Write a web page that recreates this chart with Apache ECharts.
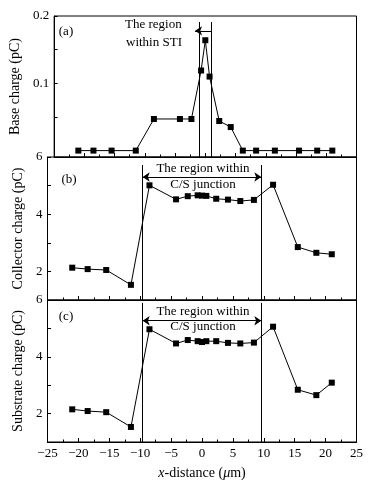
<!DOCTYPE html>
<html><head><meta charset="utf-8">
<script src="https://cdn.jsdelivr.net/npm/echarts@6/dist/echarts.min.js"></script>
<style>html,body{margin:0;padding:0;background:#fff}#c{width:383px;height:489px}</style>
</head><body><div id="c"></div>
<script>
const xVals = [-21,-18.5,-15.5,-11.5,-8.5,-4.2,-2.3,-0.7,0,0.7,2.3,4.2,6.2,8.4,11.5,15.5,18.5,21];
const baseCharge = [0,0,0,0,0.047,0.047,0.047,0.119,0.164,0.110,0.044,0.035,0,0,0,0,0,0];
const collectorCharge = [2.13,2.08,2.05,1.53,5.01,4.52,4.63,4.66,4.65,4.64,4.54,4.51,4.46,4.50,5.03,2.85,2.65,2.60];
const substrateCharge = [2.15,2.09,2.05,1.53,4.97,4.47,4.59,4.55,4.52,4.55,4.55,4.49,4.47,4.50,5.06,2.84,2.65,3.09];
const xTicks = [-25,-20,-15,-10,-5,0,5,10,15,20,25];
const baseTickLabels = [0.1,0.2];
const chargeTickLabels = [2,4,6];
const stiBounds = [-1,1];
const csBounds = [-9.6,9.6];

const FONT = 'Liberation Serif';
const black = '#000';
const grids = [
  {left:47.5, width:309, top:16, height:141},
  {left:47.5, width:309, top:157, height:143},
  {left:47.5, width:309, top:300, height:142}
].map(g => Object.assign(g, {show:true, borderColor:black, borderWidth:1, containLabel:false}));

function xAxis(i, labels){
  return {
    type:'value', gridIndex:i, min:xTicks[0], max:xTicks[xTicks.length-1], interval:5,
    axisLine:{show:true, onZero:false, lineStyle:{color:black}},
    axisTick:{show:true, inside:true, length:4, lineStyle:{color:black}},
    minorTick:{show:true, splitNumber:2, length:2.5, lineStyle:{color:black}},
    splitLine:{show:false},
    axisLabel:{show:labels, color:black, fontFamily:FONT, fontSize:13, margin:5,
      formatter: v => (v<0 ? '\u2212'+Math.abs(v) : ''+v)},
    name: labels ? '{i|x}-distance ({i|\u03bc}m)' : '',
    nameLocation:'middle', nameGap:24,
    nameTextStyle:{color:black, fontFamily:FONT, fontSize:14,
      rich:{i:{fontStyle:'italic', fontFamily:FONT, fontSize:14, color:black}}}
  };
}
function yAxisCharge(i, name){
  return {
    type:'value', gridIndex:i, min:1, max:6, interval:1,
    axisLine:{show:true, onZero:false, lineStyle:{color:black}},
    axisTick:{show:true, inside:true, length:3.5, lineStyle:{color:black}},
    splitLine:{show:false},
    axisLabel:{color:black, fontFamily:FONT, fontSize:13, margin:5,
      formatter: v => (chargeTickLabels.indexOf(v) >= 0 ? ''+v : '')},
    name:name, nameLocation:'middle', nameGap:21,
    nameTextStyle:{color:black, fontFamily:FONT, fontSize:14}
  };
}
const yAxes = [
  {
    type:'value', gridIndex:0, min:-0.0095, max:0.2,
    axisLine:{show:true, onZero:false, lineStyle:{color:black}},
    axisTick:{show:true, inside:true, length:3.5, lineStyle:{color:black}, customValues:[0.05,0.1,0.15,0.2]},
    splitLine:{show:false},
    axisLabel:{color:black, fontFamily:FONT, fontSize:13, margin:5, customValues:baseTickLabels,
      formatter: v => ''+(Math.round(v*10)/10)},
    name:'Base charge (pC)', nameLocation:'middle', nameGap:21,
    nameTextStyle:{color:black, fontFamily:FONT, fontSize:14}
  },
  yAxisCharge(1, 'Collector charge (pC)'),
  yAxisCharge(2, 'Substrate charge (pC)')
];

const lineStyleML = {color:black, width:1, type:'solid'};
function seriesFor(i, vals, markData){
  return {
    type:'line', xAxisIndex:i, yAxisIndex:i,
    data: xVals.map((x,k)=>[x, vals[k]]),
    symbol:'rect', symbolSize:6,
    itemStyle:{color:black}, lineStyle:{color:black, width:1},
    animation:false, silent:true,
    markLine:{silent:true, symbol:'none', symbolSize:7, label:{show:false},
      lineStyle:lineStyleML, animation:false, data:markData}
  };
}
const markA = [
  [{coord:[stiBounds[0],0.191]},{coord:[stiBounds[0],-0.0095]}],
  [{coord:[stiBounds[1],0.191]},{coord:[stiBounds[1],-0.0095]}],
  [{coord:[stiBounds[1],0.178], symbol:'none'},{coord:[-1.7,0.178], symbol:'arrow'}]
];
const markB = [
  [{coord:[csBounds[0],5.72]},{coord:[csBounds[0],1]}],
  [{coord:[csBounds[1],5.72]},{coord:[csBounds[1],1]}],
  [{coord:[csBounds[0],5.30], symbol:'arrow'},{coord:[csBounds[1],5.30], symbol:'arrow'}]
];
const markC = [
  [{coord:[csBounds[0],5.9]},{coord:[csBounds[0],1]}],
  [{coord:[csBounds[1],5.9]},{coord:[csBounds[1],1]}],
  [{coord:[csBounds[0],5.27], symbol:'arrow'},{coord:[csBounds[1],5.27], symbol:'arrow'}]
];

function txt(x,y,s,align){
  return {type:'text', x:x, y:y, silent:true,
    style:{text:s, fill:black, font:'13px "Liberation Serif"', textAlign:align||'center', textVerticalAlign:'middle'}};
}
const chart = echarts.init(document.getElementById('c'), null, {renderer:'canvas'});
chart.setOption({
  animation:false,
  backgroundColor:'#fff',
  grid:grids,
  xAxis:[xAxis(0,false), xAxis(1,false), xAxis(2,true)],
  yAxis:yAxes,
  series:[
    seriesFor(0, baseCharge, markA),
    seriesFor(1, collectorCharge, markB),
    seriesFor(2, substrateCharge, markC)
  ],
  graphic:[
    txt(66,32,'(a)'),
    txt(125,25,'The region','left'),
    txt(126,43,'within STI','left'),
    txt(69,180,'(b)'),
    txt(203,169,'The region within'),
    txt(203,185,'C/S junction'),
    txt(66,317,'(c)'),
    txt(203,312,'The region within'),
    txt(203,327,'C/S junction')
  ]
});
</script></body></html>
